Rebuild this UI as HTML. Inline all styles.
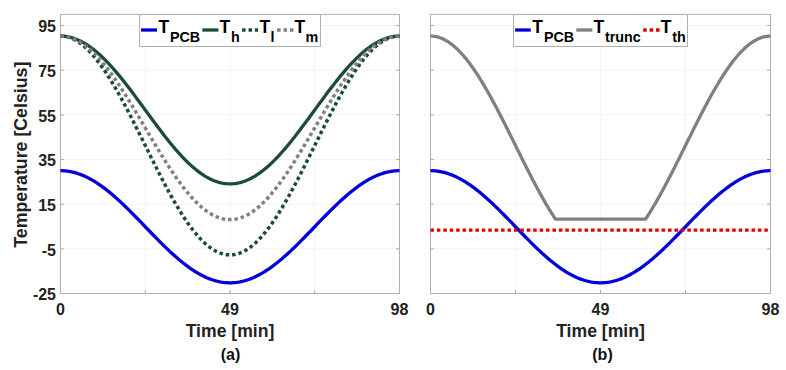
<!DOCTYPE html>
<html><head><meta charset="utf-8"><style>
html,body{margin:0;padding:0;background:#fff;width:786px;height:370px;overflow:hidden;}
svg{display:block;}
text{font-family:"Liberation Sans",sans-serif;}
</style></head><body>
<svg width="786" height="370" viewBox="0 0 786 370">
<rect width="786" height="370" fill="#fff"/>
<line x1="60.5" y1="248.84" x2="399.5" y2="248.84" stroke="#f4f4f4" stroke-width="1"/>
<line x1="60.5" y1="204.19" x2="399.5" y2="204.19" stroke="#f4f4f4" stroke-width="1"/>
<line x1="60.5" y1="159.53" x2="399.5" y2="159.53" stroke="#f4f4f4" stroke-width="1"/>
<line x1="60.5" y1="114.88" x2="399.5" y2="114.88" stroke="#f4f4f4" stroke-width="1"/>
<line x1="60.5" y1="70.22" x2="399.5" y2="70.22" stroke="#f4f4f4" stroke-width="1"/>
<line x1="60.5" y1="25.56" x2="399.5" y2="25.56" stroke="#f4f4f4" stroke-width="1"/>
<line x1="145.25" y1="14.4" x2="145.25" y2="293.5" stroke="#f4f4f4" stroke-width="1"/>
<line x1="230.00" y1="14.4" x2="230.00" y2="293.5" stroke="#f4f4f4" stroke-width="1"/>
<line x1="314.75" y1="14.4" x2="314.75" y2="293.5" stroke="#f4f4f4" stroke-width="1"/>
<line x1="430.5" y1="248.84" x2="770.5" y2="248.84" stroke="#f4f4f4" stroke-width="1"/>
<line x1="430.5" y1="204.19" x2="770.5" y2="204.19" stroke="#f4f4f4" stroke-width="1"/>
<line x1="430.5" y1="159.53" x2="770.5" y2="159.53" stroke="#f4f4f4" stroke-width="1"/>
<line x1="430.5" y1="114.88" x2="770.5" y2="114.88" stroke="#f4f4f4" stroke-width="1"/>
<line x1="430.5" y1="70.22" x2="770.5" y2="70.22" stroke="#f4f4f4" stroke-width="1"/>
<line x1="430.5" y1="25.56" x2="770.5" y2="25.56" stroke="#f4f4f4" stroke-width="1"/>
<line x1="515.50" y1="14.4" x2="515.50" y2="293.5" stroke="#f4f4f4" stroke-width="1"/>
<line x1="600.50" y1="14.4" x2="600.50" y2="293.5" stroke="#f4f4f4" stroke-width="1"/>
<line x1="685.50" y1="14.4" x2="685.50" y2="293.5" stroke="#f4f4f4" stroke-width="1"/>
<line x1="60.5" y1="293.50" x2="63.9" y2="293.50" stroke="#a6a6a6" stroke-width="1"/>
<line x1="399.5" y1="293.50" x2="396.1" y2="293.50" stroke="#a6a6a6" stroke-width="1"/>
<line x1="60.5" y1="248.84" x2="63.9" y2="248.84" stroke="#a6a6a6" stroke-width="1"/>
<line x1="399.5" y1="248.84" x2="396.1" y2="248.84" stroke="#a6a6a6" stroke-width="1"/>
<line x1="60.5" y1="204.19" x2="63.9" y2="204.19" stroke="#a6a6a6" stroke-width="1"/>
<line x1="399.5" y1="204.19" x2="396.1" y2="204.19" stroke="#a6a6a6" stroke-width="1"/>
<line x1="60.5" y1="159.53" x2="63.9" y2="159.53" stroke="#a6a6a6" stroke-width="1"/>
<line x1="399.5" y1="159.53" x2="396.1" y2="159.53" stroke="#a6a6a6" stroke-width="1"/>
<line x1="60.5" y1="114.88" x2="63.9" y2="114.88" stroke="#a6a6a6" stroke-width="1"/>
<line x1="399.5" y1="114.88" x2="396.1" y2="114.88" stroke="#a6a6a6" stroke-width="1"/>
<line x1="60.5" y1="70.22" x2="63.9" y2="70.22" stroke="#a6a6a6" stroke-width="1"/>
<line x1="399.5" y1="70.22" x2="396.1" y2="70.22" stroke="#a6a6a6" stroke-width="1"/>
<line x1="60.5" y1="25.56" x2="63.9" y2="25.56" stroke="#a6a6a6" stroke-width="1"/>
<line x1="399.5" y1="25.56" x2="396.1" y2="25.56" stroke="#a6a6a6" stroke-width="1"/>
<line x1="60.50" y1="293.5" x2="60.50" y2="290.1" stroke="#a6a6a6" stroke-width="1"/>
<line x1="60.50" y1="14.4" x2="60.50" y2="17.8" stroke="#a6a6a6" stroke-width="1"/>
<line x1="145.25" y1="293.5" x2="145.25" y2="290.1" stroke="#a6a6a6" stroke-width="1"/>
<line x1="145.25" y1="14.4" x2="145.25" y2="17.8" stroke="#a6a6a6" stroke-width="1"/>
<line x1="230.00" y1="293.5" x2="230.00" y2="290.1" stroke="#a6a6a6" stroke-width="1"/>
<line x1="230.00" y1="14.4" x2="230.00" y2="17.8" stroke="#a6a6a6" stroke-width="1"/>
<line x1="314.75" y1="293.5" x2="314.75" y2="290.1" stroke="#a6a6a6" stroke-width="1"/>
<line x1="314.75" y1="14.4" x2="314.75" y2="17.8" stroke="#a6a6a6" stroke-width="1"/>
<line x1="399.50" y1="293.5" x2="399.50" y2="290.1" stroke="#a6a6a6" stroke-width="1"/>
<line x1="399.50" y1="14.4" x2="399.50" y2="17.8" stroke="#a6a6a6" stroke-width="1"/>
<rect x="60.5" y="14.4" width="339.0" height="279.1" fill="none" stroke="#b0b0b0" stroke-width="1"/>
<line x1="430.5" y1="293.50" x2="433.9" y2="293.50" stroke="#a6a6a6" stroke-width="1"/>
<line x1="770.5" y1="293.50" x2="767.1" y2="293.50" stroke="#a6a6a6" stroke-width="1"/>
<line x1="430.5" y1="248.84" x2="433.9" y2="248.84" stroke="#a6a6a6" stroke-width="1"/>
<line x1="770.5" y1="248.84" x2="767.1" y2="248.84" stroke="#a6a6a6" stroke-width="1"/>
<line x1="430.5" y1="204.19" x2="433.9" y2="204.19" stroke="#a6a6a6" stroke-width="1"/>
<line x1="770.5" y1="204.19" x2="767.1" y2="204.19" stroke="#a6a6a6" stroke-width="1"/>
<line x1="430.5" y1="159.53" x2="433.9" y2="159.53" stroke="#a6a6a6" stroke-width="1"/>
<line x1="770.5" y1="159.53" x2="767.1" y2="159.53" stroke="#a6a6a6" stroke-width="1"/>
<line x1="430.5" y1="114.88" x2="433.9" y2="114.88" stroke="#a6a6a6" stroke-width="1"/>
<line x1="770.5" y1="114.88" x2="767.1" y2="114.88" stroke="#a6a6a6" stroke-width="1"/>
<line x1="430.5" y1="70.22" x2="433.9" y2="70.22" stroke="#a6a6a6" stroke-width="1"/>
<line x1="770.5" y1="70.22" x2="767.1" y2="70.22" stroke="#a6a6a6" stroke-width="1"/>
<line x1="430.5" y1="25.56" x2="433.9" y2="25.56" stroke="#a6a6a6" stroke-width="1"/>
<line x1="770.5" y1="25.56" x2="767.1" y2="25.56" stroke="#a6a6a6" stroke-width="1"/>
<line x1="430.50" y1="293.5" x2="430.50" y2="290.1" stroke="#a6a6a6" stroke-width="1"/>
<line x1="430.50" y1="14.4" x2="430.50" y2="17.8" stroke="#a6a6a6" stroke-width="1"/>
<line x1="515.50" y1="293.5" x2="515.50" y2="290.1" stroke="#a6a6a6" stroke-width="1"/>
<line x1="515.50" y1="14.4" x2="515.50" y2="17.8" stroke="#a6a6a6" stroke-width="1"/>
<line x1="600.50" y1="293.5" x2="600.50" y2="290.1" stroke="#a6a6a6" stroke-width="1"/>
<line x1="600.50" y1="14.4" x2="600.50" y2="17.8" stroke="#a6a6a6" stroke-width="1"/>
<line x1="685.50" y1="293.5" x2="685.50" y2="290.1" stroke="#a6a6a6" stroke-width="1"/>
<line x1="685.50" y1="14.4" x2="685.50" y2="17.8" stroke="#a6a6a6" stroke-width="1"/>
<line x1="770.50" y1="293.5" x2="770.50" y2="290.1" stroke="#a6a6a6" stroke-width="1"/>
<line x1="770.50" y1="14.4" x2="770.50" y2="17.8" stroke="#a6a6a6" stroke-width="1"/>
<rect x="430.5" y="14.4" width="340.0" height="279.1" fill="none" stroke="#b0b0b0" stroke-width="1"/>
<polyline points="60.50,170.70 62.20,170.72 63.89,170.81 65.58,170.94 67.28,171.14 68.97,171.39 70.67,171.69 72.37,172.05 74.06,172.46 75.75,172.92 77.45,173.44 79.14,174.01 80.84,174.63 82.53,175.31 84.23,176.03 85.92,176.80 87.62,177.63 89.31,178.50 91.01,179.42 92.70,180.39 94.40,181.40 96.09,182.46 97.79,183.56 99.48,184.70 101.18,185.89 102.88,187.11 104.57,188.38 106.27,189.68 107.96,191.02 109.66,192.39 111.35,193.80 113.05,195.24 114.74,196.71 116.44,198.21 118.13,199.74 119.82,201.30 121.52,202.88 123.22,204.48 124.91,206.11 126.61,207.76 128.30,209.42 130.00,211.10 131.69,212.80 133.38,214.51 135.08,216.24 136.78,217.97 138.47,219.72 140.17,221.47 141.86,223.22 143.56,224.98 145.25,226.74 146.94,228.50 148.64,230.26 150.34,232.01 152.03,233.76 153.72,235.51 155.42,237.24 157.12,238.96 158.81,240.68 160.50,242.37 162.20,244.06 163.89,245.72 165.59,247.37 167.28,249.00 168.98,250.60 170.68,252.18 172.37,253.74 174.06,255.27 175.76,256.77 177.46,258.24 179.15,259.68 180.84,261.09 182.54,262.46 184.24,263.80 185.93,265.10 187.62,266.37 189.32,267.59 191.01,268.78 192.71,269.92 194.41,271.02 196.10,272.08 197.79,273.09 199.49,274.06 201.19,274.98 202.88,275.85 204.57,276.67 206.27,277.45 207.97,278.17 209.66,278.85 211.35,279.47 213.05,280.04 214.75,280.56 216.44,281.02 218.14,281.43 219.83,281.79 221.53,282.09 223.22,282.34 224.91,282.53 226.61,282.67 228.31,282.75 230.00,282.78 231.69,282.75 233.39,282.67 235.09,282.53 236.78,282.34 238.47,282.09 240.17,281.79 241.87,281.43 243.56,281.02 245.25,280.56 246.95,280.04 248.65,279.47 250.34,278.85 252.03,278.17 253.73,277.45 255.43,276.67 257.12,275.85 258.81,274.98 260.51,274.06 262.20,273.09 263.90,272.08 265.60,271.02 267.29,269.92 268.99,268.78 270.68,267.59 272.38,266.37 274.07,265.10 275.76,263.80 277.46,262.46 279.15,261.09 280.85,259.68 282.55,258.24 284.24,256.77 285.94,255.27 287.63,253.74 289.33,252.18 291.02,250.60 292.71,249.00 294.41,247.37 296.11,245.72 297.80,244.06 299.50,242.37 301.19,240.68 302.88,238.96 304.58,237.24 306.27,235.51 307.97,233.76 309.66,232.01 311.36,230.26 313.06,228.50 314.75,226.74 316.44,224.98 318.14,223.22 319.83,221.47 321.53,219.72 323.23,217.97 324.92,216.24 326.62,214.51 328.31,212.80 330.00,211.10 331.70,209.42 333.40,207.76 335.09,206.11 336.79,204.48 338.48,202.88 340.18,201.30 341.87,199.74 343.56,198.21 345.26,196.71 346.95,195.24 348.65,193.80 350.35,192.39 352.04,191.02 353.74,189.68 355.43,188.38 357.12,187.11 358.82,185.89 360.51,184.70 362.21,183.56 363.90,182.46 365.60,181.40 367.30,180.39 368.99,179.42 370.69,178.50 372.38,177.63 374.07,176.80 375.77,176.03 377.46,175.31 379.16,174.63 380.85,174.01 382.55,173.44 384.25,172.92 385.94,172.46 387.63,172.05 389.33,171.69 391.02,171.39 392.72,171.14 394.42,170.94 396.11,170.81 397.81,170.72 399.50,170.70" fill="none" stroke="#0000dd" stroke-width="3.3" stroke-linejoin="round"/>
<polyline points="60.50,36.06 62.20,36.09 63.89,36.20 65.58,36.39 67.28,36.64 68.97,36.97 70.67,37.37 72.37,37.84 74.06,38.38 75.75,38.99 77.45,39.68 79.14,40.43 80.84,41.25 82.53,42.14 84.23,43.09 85.92,44.11 87.62,45.20 89.31,46.35 91.01,47.56 92.70,48.84 94.40,50.17 96.09,51.57 97.79,53.02 99.48,54.53 101.18,56.09 102.88,57.70 104.57,59.37 106.27,61.09 107.96,62.85 109.66,64.67 111.35,66.52 113.05,68.42 114.74,70.36 116.44,72.34 118.13,74.36 119.82,76.41 121.52,78.50 123.22,80.61 124.91,82.76 126.61,84.93 128.30,87.13 130.00,89.34 131.69,91.58 133.38,93.84 135.08,96.12 136.78,98.40 138.47,100.70 140.17,103.01 141.86,105.32 143.56,107.64 145.25,109.96 146.94,112.29 148.64,114.60 150.34,116.92 152.03,119.23 153.72,121.53 155.42,123.81 157.12,126.09 158.81,128.34 160.50,130.58 162.20,132.80 163.89,135.00 165.59,137.17 167.28,139.32 168.98,141.43 170.68,143.52 172.37,145.57 174.06,147.58 175.76,149.56 177.46,151.50 179.15,153.40 180.84,155.26 182.54,157.07 184.24,158.84 185.93,160.56 187.62,162.22 189.32,163.84 191.01,165.40 192.71,166.91 194.41,168.36 196.10,169.75 197.79,171.09 199.49,172.36 201.19,173.58 202.88,174.73 204.57,175.81 206.27,176.84 207.97,177.79 209.66,178.68 211.35,179.50 213.05,180.25 214.75,180.93 216.44,181.55 218.14,182.09 219.83,182.56 221.53,182.96 223.22,183.29 224.91,183.54 226.61,183.72 228.31,183.83 230.00,183.87 231.69,183.83 233.39,183.72 235.09,183.54 236.78,183.29 238.47,182.96 240.17,182.56 241.87,182.09 243.56,181.55 245.25,180.93 246.95,180.25 248.65,179.50 250.34,178.68 252.03,177.79 253.73,176.84 255.43,175.81 257.12,174.73 258.81,173.58 260.51,172.36 262.20,171.09 263.90,169.75 265.60,168.36 267.29,166.91 268.99,165.40 270.68,163.84 272.38,162.22 274.07,160.56 275.76,158.84 277.46,157.07 279.15,155.26 280.85,153.40 282.55,151.50 284.24,149.56 285.94,147.58 287.63,145.57 289.33,143.52 291.02,141.43 292.71,139.32 294.41,137.17 296.11,135.00 297.80,132.80 299.50,130.58 301.19,128.34 302.88,126.09 304.58,123.81 306.27,121.53 307.97,119.23 309.66,116.92 311.36,114.60 313.06,112.29 314.75,109.96 316.44,107.64 318.14,105.32 319.83,103.01 321.53,100.70 323.23,98.40 324.92,96.12 326.62,93.84 328.31,91.58 330.00,89.34 331.70,87.13 333.40,84.93 335.09,82.76 336.79,80.61 338.48,78.50 340.18,76.41 341.87,74.36 343.56,72.34 345.26,70.36 346.95,68.42 348.65,66.52 350.35,64.67 352.04,62.85 353.74,61.09 355.43,59.37 357.12,57.70 358.82,56.09 360.51,54.53 362.21,53.02 363.90,51.57 365.60,50.17 367.30,48.84 368.99,47.56 370.69,46.35 372.38,45.20 374.07,44.11 375.77,43.09 377.46,42.14 379.16,41.25 380.85,40.43 382.55,39.68 384.25,38.99 385.94,38.38 387.63,37.84 389.33,37.37 391.02,36.97 392.72,36.64 394.42,36.39 396.11,36.20 397.81,36.09 399.50,36.06" fill="none" stroke="#1b4d36" stroke-width="3.3" stroke-linejoin="round"/>
<polyline points="60.50,36.06 62.20,36.11 63.89,36.27 65.58,36.54 67.28,36.92 68.97,37.41 70.67,38.00 72.37,38.69 74.06,39.50 75.75,40.40 77.45,41.41 79.14,42.53 80.84,43.74 82.53,45.06 84.23,46.47 85.92,47.98 87.62,49.59 89.31,51.29 91.01,53.09 92.70,54.98 94.40,56.95 96.09,59.02 97.79,61.17 99.48,63.40 101.18,65.71 102.88,68.10 104.57,70.57 106.27,73.11 107.96,75.73 109.66,78.41 111.35,81.16 113.05,83.97 114.74,86.84 116.44,89.77 118.13,92.76 119.82,95.80 121.52,98.88 123.22,102.01 124.91,105.19 126.61,108.40 128.30,111.66 130.00,114.94 131.69,118.26 133.38,121.60 135.08,124.96 136.78,128.35 138.47,131.75 140.17,135.17 141.86,138.60 143.56,142.03 145.25,145.47 146.94,148.90 148.64,152.34 150.34,155.76 152.03,159.18 153.72,162.58 155.42,165.97 157.12,169.33 158.81,172.67 160.50,175.99 162.20,179.27 163.89,182.53 165.59,185.74 167.28,188.92 168.98,192.05 170.68,195.14 172.37,198.17 174.06,201.16 175.76,204.09 177.46,206.96 179.15,209.77 180.84,212.52 182.54,215.20 184.24,217.82 185.93,220.36 187.62,222.83 189.32,225.22 191.01,227.53 192.71,229.77 194.41,231.91 196.10,233.98 197.79,235.95 199.49,237.84 201.19,239.64 202.88,241.34 204.57,242.95 206.27,244.46 207.97,245.87 209.66,247.19 211.35,248.40 213.05,249.52 214.75,250.53 216.44,251.44 218.14,252.24 219.83,252.93 221.53,253.53 223.22,254.01 224.91,254.39 226.61,254.66 228.31,254.82 230.00,254.87 231.69,254.82 233.39,254.66 235.09,254.39 236.78,254.01 238.47,253.53 240.17,252.93 241.87,252.24 243.56,251.44 245.25,250.53 246.95,249.52 248.65,248.40 250.34,247.19 252.03,245.87 253.73,244.46 255.43,242.95 257.12,241.34 258.81,239.64 260.51,237.84 262.20,235.95 263.90,233.98 265.60,231.91 267.29,229.77 268.99,227.53 270.68,225.22 272.38,222.83 274.07,220.36 275.76,217.82 277.46,215.20 279.15,212.52 280.85,209.77 282.55,206.96 284.24,204.09 285.94,201.16 287.63,198.17 289.33,195.14 291.02,192.05 292.71,188.92 294.41,185.74 296.11,182.53 297.80,179.27 299.50,175.99 301.19,172.67 302.88,169.33 304.58,165.97 306.27,162.58 307.97,159.18 309.66,155.76 311.36,152.34 313.06,148.90 314.75,145.47 316.44,142.03 318.14,138.60 319.83,135.17 321.53,131.75 323.23,128.35 324.92,124.96 326.62,121.60 328.31,118.26 330.00,114.94 331.70,111.66 333.40,108.40 335.09,105.19 336.79,102.01 338.48,98.88 340.18,95.80 341.87,92.76 343.56,89.77 345.26,86.84 346.95,83.97 348.65,81.16 350.35,78.41 352.04,75.73 353.74,73.11 355.43,70.57 357.12,68.10 358.82,65.71 360.51,63.40 362.21,61.17 363.90,59.02 365.60,56.95 367.30,54.98 368.99,53.09 370.69,51.29 372.38,49.59 374.07,47.98 375.77,46.47 377.46,45.06 379.16,43.74 380.85,42.53 382.55,41.41 384.25,40.40 385.94,39.50 387.63,38.69 389.33,38.00 391.02,37.41 392.72,36.92 394.42,36.54 396.11,36.27 397.81,36.11 399.50,36.06" fill="none" stroke="#1b4d36" stroke-width="3.5" stroke-linejoin="round" stroke-dasharray="3.5 2.92"/>
<polyline points="60.50,36.06 62.20,36.10 63.89,36.24 65.58,36.47 67.28,36.78 68.97,37.19 70.67,37.68 72.37,38.27 74.06,38.94 75.75,39.70 77.45,40.55 79.14,41.48 80.84,42.50 82.53,43.61 84.23,44.79 85.92,46.06 87.62,47.41 89.31,48.84 91.01,50.34 92.70,51.93 94.40,53.58 96.09,55.32 97.79,57.12 99.48,58.99 101.18,60.93 102.88,62.94 104.57,65.01 106.27,67.14 107.96,69.33 109.66,71.58 111.35,73.89 113.05,76.24 114.74,78.65 116.44,81.11 118.13,83.62 119.82,86.16 121.52,88.75 123.22,91.38 124.91,94.04 126.61,96.74 128.30,99.47 130.00,102.22 131.69,105.00 133.38,107.81 135.08,110.63 136.78,113.47 138.47,116.32 140.17,119.19 141.86,122.06 143.56,124.94 145.25,127.83 146.94,130.71 148.64,133.59 150.34,136.46 152.03,139.33 153.72,142.18 155.42,145.02 157.12,147.84 158.81,150.65 160.50,153.43 162.20,156.18 163.89,158.91 165.59,161.61 167.28,164.27 168.98,166.90 170.68,169.49 172.37,172.04 174.06,174.54 175.76,177.00 177.46,179.41 179.15,181.77 180.84,184.07 182.54,186.32 184.24,188.51 185.93,190.65 187.62,192.72 189.32,194.72 191.01,196.66 192.71,198.53 194.41,200.34 196.10,202.07 197.79,203.73 199.49,205.31 201.19,206.81 202.88,208.24 204.57,209.59 206.27,210.86 207.97,212.05 209.66,213.15 211.35,214.17 213.05,215.10 214.75,215.95 216.44,216.71 218.14,217.38 219.83,217.97 221.53,218.46 223.22,218.87 224.91,219.19 226.61,219.41 228.31,219.55 230.00,219.59 231.69,219.55 233.39,219.41 235.09,219.19 236.78,218.87 238.47,218.46 240.17,217.97 241.87,217.38 243.56,216.71 245.25,215.95 246.95,215.10 248.65,214.17 250.34,213.15 252.03,212.05 253.73,210.86 255.43,209.59 257.12,208.24 258.81,206.81 260.51,205.31 262.20,203.73 263.90,202.07 265.60,200.34 267.29,198.53 268.99,196.66 270.68,194.72 272.38,192.72 274.07,190.65 275.76,188.51 277.46,186.32 279.15,184.07 280.85,181.77 282.55,179.41 284.24,177.00 285.94,174.54 287.63,172.04 289.33,169.49 291.02,166.90 292.71,164.27 294.41,161.61 296.11,158.91 297.80,156.18 299.50,153.43 301.19,150.65 302.88,147.84 304.58,145.02 306.27,142.18 307.97,139.33 309.66,136.46 311.36,133.59 313.06,130.71 314.75,127.83 316.44,124.94 318.14,122.06 319.83,119.19 321.53,116.32 323.23,113.47 324.92,110.63 326.62,107.81 328.31,105.00 330.00,102.22 331.70,99.47 333.40,96.74 335.09,94.04 336.79,91.38 338.48,88.75 340.18,86.16 341.87,83.62 343.56,81.11 345.26,78.65 346.95,76.24 348.65,73.89 350.35,71.58 352.04,69.33 353.74,67.14 355.43,65.01 357.12,62.94 358.82,60.93 360.51,58.99 362.21,57.12 363.90,55.32 365.60,53.58 367.30,51.93 368.99,50.34 370.69,48.84 372.38,47.41 374.07,46.06 375.77,44.79 377.46,43.61 379.16,42.50 380.85,41.48 382.55,40.55 384.25,39.70 385.94,38.94 387.63,38.27 389.33,37.68 391.02,37.19 392.72,36.78 394.42,36.47 396.11,36.24 397.81,36.10 399.50,36.06" fill="none" stroke="#808080" stroke-width="3.5" stroke-linejoin="round" stroke-dasharray="3.5 2.92"/>
<polyline points="430.50,170.70 432.20,170.72 433.90,170.81 435.60,170.94 437.30,171.14 439.00,171.39 440.70,171.69 442.40,172.05 444.10,172.46 445.80,172.92 447.50,173.44 449.20,174.01 450.90,174.63 452.60,175.31 454.30,176.03 456.00,176.80 457.70,177.63 459.40,178.50 461.10,179.42 462.80,180.39 464.50,181.40 466.20,182.46 467.90,183.56 469.60,184.70 471.30,185.89 473.00,187.11 474.70,188.38 476.40,189.68 478.10,191.02 479.80,192.39 481.50,193.80 483.20,195.24 484.90,196.71 486.60,198.21 488.30,199.74 490.00,201.30 491.70,202.88 493.40,204.48 495.10,206.11 496.80,207.76 498.50,209.42 500.20,211.10 501.90,212.80 503.60,214.51 505.30,216.24 507.00,217.97 508.70,219.72 510.40,221.47 512.10,223.22 513.80,224.98 515.50,226.74 517.20,228.50 518.90,230.26 520.60,232.01 522.30,233.76 524.00,235.51 525.70,237.24 527.40,238.96 529.10,240.68 530.80,242.37 532.50,244.06 534.20,245.72 535.90,247.37 537.60,249.00 539.30,250.60 541.00,252.18 542.70,253.74 544.40,255.27 546.10,256.77 547.80,258.24 549.50,259.68 551.20,261.09 552.90,262.46 554.60,263.80 556.30,265.10 558.00,266.37 559.70,267.59 561.40,268.78 563.10,269.92 564.80,271.02 566.50,272.08 568.20,273.09 569.90,274.06 571.60,274.98 573.30,275.85 575.00,276.67 576.70,277.45 578.40,278.17 580.10,278.85 581.80,279.47 583.50,280.04 585.20,280.56 586.90,281.02 588.60,281.43 590.30,281.79 592.00,282.09 593.70,282.34 595.40,282.53 597.10,282.67 598.80,282.75 600.50,282.78 602.20,282.75 603.90,282.67 605.60,282.53 607.30,282.34 609.00,282.09 610.70,281.79 612.40,281.43 614.10,281.02 615.80,280.56 617.50,280.04 619.20,279.47 620.90,278.85 622.60,278.17 624.30,277.45 626.00,276.67 627.70,275.85 629.40,274.98 631.10,274.06 632.80,273.09 634.50,272.08 636.20,271.02 637.90,269.92 639.60,268.78 641.30,267.59 643.00,266.37 644.70,265.10 646.40,263.80 648.10,262.46 649.80,261.09 651.50,259.68 653.20,258.24 654.90,256.77 656.60,255.27 658.30,253.74 660.00,252.18 661.70,250.60 663.40,249.00 665.10,247.37 666.80,245.72 668.50,244.06 670.20,242.37 671.90,240.68 673.60,238.96 675.30,237.24 677.00,235.51 678.70,233.76 680.40,232.01 682.10,230.26 683.80,228.50 685.50,226.74 687.20,224.98 688.90,223.22 690.60,221.47 692.30,219.72 694.00,217.97 695.70,216.24 697.40,214.51 699.10,212.80 700.80,211.10 702.50,209.42 704.20,207.76 705.90,206.11 707.60,204.48 709.30,202.88 711.00,201.30 712.70,199.74 714.40,198.21 716.10,196.71 717.80,195.24 719.50,193.80 721.20,192.39 722.90,191.02 724.60,189.68 726.30,188.38 728.00,187.11 729.70,185.89 731.40,184.70 733.10,183.56 734.80,182.46 736.50,181.40 738.20,180.39 739.90,179.42 741.60,178.50 743.30,177.63 745.00,176.80 746.70,176.03 748.40,175.31 750.10,174.63 751.80,174.01 753.50,173.44 755.20,172.92 756.90,172.46 758.60,172.05 760.30,171.69 762.00,171.39 763.70,171.14 765.40,170.94 767.10,170.81 768.80,170.72 770.50,170.70" fill="none" stroke="#0000dd" stroke-width="3.3" stroke-linejoin="round"/>
<polyline points="430.50,36.06 431.35,36.07 432.20,36.11 433.05,36.18 433.90,36.27 434.75,36.40 435.60,36.54 436.45,36.72 437.30,36.92 438.15,37.15 439.00,37.41 439.85,37.69 440.70,38.00 441.55,38.33 442.40,38.69 443.25,39.08 444.10,39.50 444.95,39.94 445.80,40.40 446.65,40.89 447.50,41.41 448.35,41.96 449.20,42.53 450.05,43.12 450.90,43.74 451.75,44.39 452.60,45.06 453.45,45.75 454.30,46.47 455.15,47.21 456.00,47.98 456.85,48.78 457.70,49.59 458.55,50.43 459.40,51.29 460.25,52.18 461.10,53.09 461.95,54.02 462.80,54.98 463.65,55.95 464.50,56.95 465.35,57.97 466.20,59.02 467.05,60.08 467.90,61.17 468.75,62.27 469.60,63.40 470.45,64.54 471.30,65.71 472.15,66.90 473.00,68.10 473.85,69.33 474.70,70.57 475.55,71.83 476.40,73.11 477.25,74.41 478.10,75.73 478.95,77.06 479.80,78.41 480.65,79.78 481.50,81.16 482.35,82.56 483.20,83.97 484.05,85.40 484.90,86.84 485.75,88.30 486.60,89.77 487.45,91.26 488.30,92.76 489.15,94.27 490.00,95.80 490.85,97.33 491.70,98.88 492.55,100.44 493.40,102.01 494.25,103.60 495.10,105.19 495.95,106.79 496.80,108.40 497.65,110.03 498.50,111.66 499.35,113.30 500.20,114.94 501.05,116.60 501.90,118.26 502.75,119.92 503.60,121.60 504.45,123.28 505.30,124.96 506.15,126.66 507.00,128.35 507.85,130.05 508.70,131.75 509.55,133.46 510.40,135.17 511.25,136.88 512.10,138.60 512.95,140.31 513.80,142.03 514.65,143.75 515.50,145.47 516.35,147.18 517.20,148.90 518.05,150.62 518.90,152.34 519.75,154.05 520.60,155.76 521.45,157.47 522.30,159.18 523.15,160.88 524.00,162.58 524.85,164.28 525.70,165.97 526.55,167.65 527.40,169.33 528.25,171.01 529.10,172.67 529.95,174.33 530.80,175.99 531.65,177.64 532.50,179.27 533.35,180.90 534.20,182.53 535.05,184.14 535.90,185.74 536.75,187.33 537.60,188.92 538.45,190.49 539.30,192.05 540.15,193.60 541.00,195.14 541.85,196.66 542.70,198.17 543.55,199.67 544.40,201.16 545.25,202.63 546.10,204.09 546.95,205.53 547.80,206.96 548.65,208.38 549.50,209.77 550.35,211.16 551.20,212.52 552.05,213.87 552.90,215.20 553.75,216.52 554.60,217.82 555.45,219.10 556.30,219.15 557.15,219.15 558.00,219.15 558.85,219.15 559.70,219.15 560.55,219.15 561.40,219.15 562.25,219.15 563.10,219.15 563.95,219.15 564.80,219.15 565.65,219.15 566.50,219.15 567.35,219.15 568.20,219.15 569.05,219.15 569.90,219.15 570.75,219.15 571.60,219.15 572.45,219.15 573.30,219.15 574.15,219.15 575.00,219.15 575.85,219.15 576.70,219.15 577.55,219.15 578.40,219.15 579.25,219.15 580.10,219.15 580.95,219.15 581.80,219.15 582.65,219.15 583.50,219.15 584.35,219.15 585.20,219.15 586.05,219.15 586.90,219.15 587.75,219.15 588.60,219.15 589.45,219.15 590.30,219.15 591.15,219.15 592.00,219.15 592.85,219.15 593.70,219.15 594.55,219.15 595.40,219.15 596.25,219.15 597.10,219.15 597.95,219.15 598.80,219.15 599.65,219.15 600.50,219.15 601.35,219.15 602.20,219.15 603.05,219.15 603.90,219.15 604.75,219.15 605.60,219.15 606.45,219.15 607.30,219.15 608.15,219.15 609.00,219.15 609.85,219.15 610.70,219.15 611.55,219.15 612.40,219.15 613.25,219.15 614.10,219.15 614.95,219.15 615.80,219.15 616.65,219.15 617.50,219.15 618.35,219.15 619.20,219.15 620.05,219.15 620.90,219.15 621.75,219.15 622.60,219.15 623.45,219.15 624.30,219.15 625.15,219.15 626.00,219.15 626.85,219.15 627.70,219.15 628.55,219.15 629.40,219.15 630.25,219.15 631.10,219.15 631.95,219.15 632.80,219.15 633.65,219.15 634.50,219.15 635.35,219.15 636.20,219.15 637.05,219.15 637.90,219.15 638.75,219.15 639.60,219.15 640.45,219.15 641.30,219.15 642.15,219.15 643.00,219.15 643.85,219.15 644.70,219.15 645.55,219.10 646.40,217.82 647.25,216.52 648.10,215.20 648.95,213.87 649.80,212.52 650.65,211.16 651.50,209.77 652.35,208.38 653.20,206.96 654.05,205.53 654.90,204.09 655.75,202.63 656.60,201.16 657.45,199.67 658.30,198.17 659.15,196.66 660.00,195.14 660.85,193.60 661.70,192.05 662.55,190.49 663.40,188.92 664.25,187.33 665.10,185.74 665.95,184.14 666.80,182.53 667.65,180.90 668.50,179.27 669.35,177.64 670.20,175.99 671.05,174.33 671.90,172.67 672.75,171.01 673.60,169.33 674.45,167.65 675.30,165.97 676.15,164.28 677.00,162.58 677.85,160.88 678.70,159.18 679.55,157.47 680.40,155.76 681.25,154.05 682.10,152.34 682.95,150.62 683.80,148.90 684.65,147.18 685.50,145.47 686.35,143.75 687.20,142.03 688.05,140.31 688.90,138.60 689.75,136.88 690.60,135.17 691.45,133.46 692.30,131.75 693.15,130.05 694.00,128.35 694.85,126.66 695.70,124.96 696.55,123.28 697.40,121.60 698.25,119.92 699.10,118.26 699.95,116.60 700.80,114.94 701.65,113.30 702.50,111.66 703.35,110.03 704.20,108.40 705.05,106.79 705.90,105.19 706.75,103.60 707.60,102.01 708.45,100.44 709.30,98.88 710.15,97.33 711.00,95.80 711.85,94.27 712.70,92.76 713.55,91.26 714.40,89.77 715.25,88.30 716.10,86.84 716.95,85.40 717.80,83.97 718.65,82.56 719.50,81.16 720.35,79.78 721.20,78.41 722.05,77.06 722.90,75.73 723.75,74.41 724.60,73.11 725.45,71.83 726.30,70.57 727.15,69.33 728.00,68.10 728.85,66.90 729.70,65.71 730.55,64.54 731.40,63.40 732.25,62.27 733.10,61.17 733.95,60.08 734.80,59.02 735.65,57.97 736.50,56.95 737.35,55.95 738.20,54.98 739.05,54.02 739.90,53.09 740.75,52.18 741.60,51.29 742.45,50.43 743.30,49.59 744.15,48.78 745.00,47.98 745.85,47.21 746.70,46.47 747.55,45.75 748.40,45.06 749.25,44.39 750.10,43.74 750.95,43.12 751.80,42.53 752.65,41.96 753.50,41.41 754.35,40.89 755.20,40.40 756.05,39.94 756.90,39.50 757.75,39.08 758.60,38.69 759.45,38.33 760.30,38.00 761.15,37.69 762.00,37.41 762.85,37.15 763.70,36.92 764.55,36.72 765.40,36.54 766.25,36.40 767.10,36.27 767.95,36.18 768.80,36.11 769.65,36.07 770.50,36.06" fill="none" stroke="#808080" stroke-width="3.3" stroke-linejoin="round"/>
<line x1="430.5" y1="230.20" x2="770.5" y2="230.20" stroke="#e00000" stroke-width="3.3" stroke-dasharray="3.5 2.92"/>
<text x="56" y="300.30" font-family="Liberation Sans" font-weight="bold" font-size="16" text-anchor="end" fill="#222">-25</text>
<text x="56" y="255.64" font-family="Liberation Sans" font-weight="bold" font-size="16" text-anchor="end" fill="#222">-5</text>
<text x="56" y="210.99" font-family="Liberation Sans" font-weight="bold" font-size="16" text-anchor="end" fill="#222">15</text>
<text x="56" y="166.33" font-family="Liberation Sans" font-weight="bold" font-size="16" text-anchor="end" fill="#222">35</text>
<text x="56" y="121.68" font-family="Liberation Sans" font-weight="bold" font-size="16" text-anchor="end" fill="#222">55</text>
<text x="56" y="77.02" font-family="Liberation Sans" font-weight="bold" font-size="16" text-anchor="end" fill="#222">75</text>
<text x="56" y="32.36" font-family="Liberation Sans" font-weight="bold" font-size="16" text-anchor="end" fill="#222">95</text>
<text x="60.50" y="314.6" font-family="Liberation Sans" font-weight="bold" font-size="16" text-anchor="middle" fill="#222">0</text>
<text x="230.00" y="314.6" font-family="Liberation Sans" font-weight="bold" font-size="16" text-anchor="middle" fill="#222">49</text>
<text x="399.50" y="314.6" font-family="Liberation Sans" font-weight="bold" font-size="16" text-anchor="middle" fill="#222">98</text>
<text x="230.00" y="336.5" font-family="Liberation Sans" font-weight="bold" font-size="17.6" text-anchor="middle" fill="#222">Time [min]</text>
<text x="430.50" y="314.6" font-family="Liberation Sans" font-weight="bold" font-size="16" text-anchor="middle" fill="#222">0</text>
<text x="600.50" y="314.6" font-family="Liberation Sans" font-weight="bold" font-size="16" text-anchor="middle" fill="#222">49</text>
<text x="770.50" y="314.6" font-family="Liberation Sans" font-weight="bold" font-size="16" text-anchor="middle" fill="#222">98</text>
<text x="600.50" y="336.5" font-family="Liberation Sans" font-weight="bold" font-size="17.6" text-anchor="middle" fill="#222">Time [min]</text>
<text x="230.50" y="360.3" font-family="Liberation Sans" font-weight="bold" font-size="16" text-anchor="middle" fill="#111">(a)</text>
<text x="602.50" y="359.8" font-family="Liberation Sans" font-weight="bold" font-size="16" text-anchor="middle" fill="#111">(b)</text>
<text transform="translate(27.2,154.7) rotate(-90)" x="0" y="0" font-family="Liberation Sans" font-weight="bold" font-size="17.75" text-anchor="middle" fill="#222">Temperature [Celsius]</text>
<rect x="139.5" y="14.5" width="181" height="32" fill="#fff" stroke="#b0b0b0" stroke-width="1"/>
<line x1="141" y1="30" x2="157" y2="30" stroke="#0000dd" stroke-width="3.3"/>
<text transform="translate(158.5,33.1) scale(1,1.05)" font-family="Liberation Sans" font-weight="bold" font-size="17.5" fill="#000">T</text>
<text transform="translate(170,42.2) scale(1,1.05)" font-family="Liberation Sans" font-weight="bold" font-size="14.3" fill="#000">PCB</text>
<line x1="202.3" y1="30" x2="218.4" y2="30" stroke="#1b4d36" stroke-width="3.3"/>
<text transform="translate(219.5,33.1) scale(1,1.05)" font-family="Liberation Sans" font-weight="bold" font-size="17.5" fill="#000">T</text>
<text transform="translate(231,42.2) scale(1,1.05)" font-family="Liberation Sans" font-weight="bold" font-size="14.3" fill="#000">h</text>
<line x1="242.1" y1="30" x2="258.1" y2="30" stroke="#1b4d36" stroke-width="3.3" stroke-dasharray="3.5 2.92"/>
<text transform="translate(259.6,33.1) scale(1,1.05)" font-family="Liberation Sans" font-weight="bold" font-size="17.5" fill="#000">T</text>
<text transform="translate(270.5,42.2) scale(1,1.05)" font-family="Liberation Sans" font-weight="bold" font-size="14.3" fill="#000">l</text>
<line x1="277.1" y1="30" x2="293.5" y2="30" stroke="#808080" stroke-width="3.3" stroke-dasharray="3.5 2.92"/>
<text transform="translate(294.6,33.1) scale(1,1.05)" font-family="Liberation Sans" font-weight="bold" font-size="17.5" fill="#000">T</text>
<text transform="translate(305.5,42.2) scale(1,1.05)" font-family="Liberation Sans" font-weight="bold" font-size="14.3" fill="#000">m</text>
<rect x="513.5" y="14.5" width="174" height="32" fill="#fff" stroke="#b0b0b0" stroke-width="1"/>
<line x1="515.1" y1="30" x2="530.8" y2="30" stroke="#0000dd" stroke-width="3.3"/>
<text transform="translate(532.3,33.1) scale(1,1.05)" font-family="Liberation Sans" font-weight="bold" font-size="17.5" fill="#000">T</text>
<text transform="translate(544,42.2) scale(1,1.05)" font-family="Liberation Sans" font-weight="bold" font-size="14.3" fill="#000">PCB</text>
<line x1="576.3" y1="30" x2="592.4" y2="30" stroke="#808080" stroke-width="3.3"/>
<text transform="translate(593.6,33.1) scale(1,1.05)" font-family="Liberation Sans" font-weight="bold" font-size="17.5" fill="#000">T</text>
<text transform="translate(605,42.2) scale(1,1.05)" font-family="Liberation Sans" font-weight="bold" font-size="14.3" fill="#000">trunc</text>
<line x1="643.2" y1="30" x2="660" y2="30" stroke="#e00000" stroke-width="3.3" stroke-dasharray="3.5 2.92"/>
<text transform="translate(660.8,33.1) scale(1,1.05)" font-family="Liberation Sans" font-weight="bold" font-size="17.5" fill="#000">T</text>
<text transform="translate(672.2,42.2) scale(1,1.05)" font-family="Liberation Sans" font-weight="bold" font-size="14.3" fill="#000">th</text>
</svg>
</body></html>
